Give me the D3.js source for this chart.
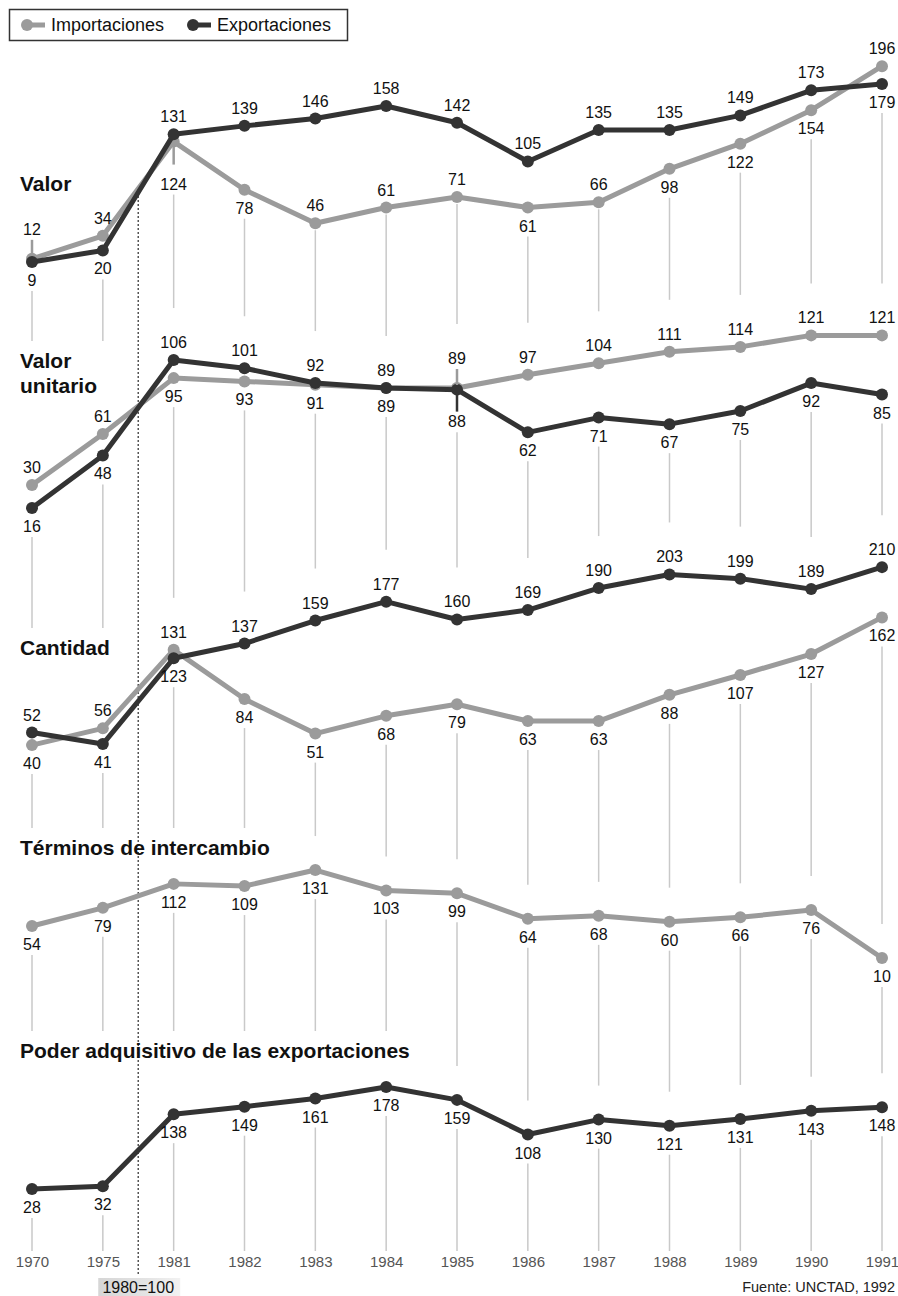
<!DOCTYPE html>
<html><head><meta charset="utf-8">
<script src="https://cdn.jsdelivr.net/npm/d3@7"></script>
<style>
html,body{margin:0;padding:0;background:#fff;}
svg{display:block;font-family:"Liberation Sans",Arial,Helvetica,sans-serif;}
</style></head><body>
<svg id="chart" width="898" height="1296"></svg>
<script>
// ---------- DATA ----------
const years = ["1970","1975","1981","1982","1983","1984","1985","1986","1987","1988","1989","1990","1991"];
const seriesNames = ["Importaciones","Exportaciones"];

const valorImp = [12,34,124,78,46,61,71,61,66,98,122,154,196];
const valorExp = [9,20,131,139,146,158,142,105,135,135,149,173,179];
const unitImp  = [30,61,95,93,91,89,89,97,104,111,114,121,121];
const unitExp  = [16,48,106,101,92,89,88,62,71,67,75,92,85];
const cantImp  = [40,56,131,84,51,68,79,63,63,88,107,127,162];
const cantExp  = [52,41,123,137,159,177,160,169,190,203,199,189,210];
const terminos = [54,79,112,109,131,103,99,64,68,60,66,76,10];
const poder    = [28,32,138,149,161,178,159,108,130,121,131,143,148];

// label side: a = above, b = below, A/B/C = with leader tick
const valorImpSide = ["A","a","C","b","a","a","a","b","a","b","b","b","a"];
const valorExpSide = ["b","b","a","a","a","a","a","a","a","a","a","a","b"];
const unitImpSide  = ["a","a","b","b","b","b","A","a","a","a","a","a","a"];
const unitExpSide  = ["b","b","a","a","a","a","B","b","b","b","b","b","b"];
const cantImpSide  = ["b","a","a","b","b","b","b","b","b","b","b","b","b"];
const cantExpSide  = ["a","b","b","a","a","a","a","a","a","a","a","a","a"];
const termSide     = years.map(()=>"b");
const poderSide    = years.map(()=>"b");

const panelTitles = [["Valor"],["Valor","unitario"],["Cantidad"],["Términos de intercambio"],["Poder adquisitivo de las exportaciones"]];
const baseNote = "1980=100";
const sourceNote = "Fuente: UNCTAD, 1992";

// ---------- STYLE / LAYOUT ----------
const cImp = "#9b9b9b", cExp = "#333333", cGrid = "#c9c9c9";
const svg = d3.select("#chart");
const x = d3.scalePoint().domain(years).range([32, 882]).padding(0);

const panels = [
  {title: panelTitles[0], titleY: 191, y: d3.scaleLinear().domain([0,100]).range([271.4, 271.4-104.7]),
   series: [{v: valorImp, side: valorImpSide, c: cImp}, {v: valorExp, side: valorExpSide, c: cExp}]},
  {title: panelTitles[1], titleY: 368, y: d3.scaleLinear().domain([0,100]).range([534.3, 534.3-164.4]),
   series: [{v: unitImp, side: unitImpSide, c: cImp}, {v: unitExp, side: unitExpSide, c: cExp}]},
  {title: panelTitles[2], titleY: 655, y: d3.scaleLinear().domain([0,100]).range([787, 787-104.7]),
   series: [{v: cantImp, side: cantImpSide, c: cImp}, {v: cantExp, side: cantExpSide, c: cExp}]},
  {title: panelTitles[3], titleY: 855, y: d3.scaleLinear().domain([0,100]).range([965.3, 965.3-72.7]),
   series: [{v: terminos, side: termSide, c: cImp}]},
  {title: panelTitles[4], titleY: 1058, y: d3.scaleLinear().domain([0,100]).range([1208, 1208-68]),
   series: [{v: poder, side: poderSide, c: cExp}]}
];

const R = 6, LW = 5, FS = 16;
const gGrid = svg.append("g");
const gMain = svg.append("g");

// titles
panels.forEach(p => {
  const t = gMain.append("text").attr("x", 20).attr("y", p.titleY)
    .attr("font-size", 21).attr("font-weight", "bold").attr("fill", "#111");
  p.title.forEach((line, i) => {
    t.append("tspan").attr("x", 20).attr("dy", i === 0 ? 0 : 24.5).text(line);
  });
  p.titleNode = t.node();
});

function labelInfo(side, py) {
  if (side === "a") return {base: py - 12, tick: null};
  if (side === "A") return {base: py - 24, tick: [py - 3, py - 19]};
  if (side === "b") return {base: py + 24, tick: null};
  if (side === "B") return {base: py + 37.5, tick: [py + 3, py + 22]};
  if (side === "C") return {base: py + 48, tick: [py + 3, py + 23]};
}

panels.forEach(p => {
  p.top = years.map(() => Infinity);
  p.bottom = years.map(() => -Infinity);
  p.series.forEach(s => {
    s.v.forEach((val, i) => {
      const py = p.y(val);
      const li = labelInfo(s.side[i], py);
      p.top[i] = Math.min(p.top[i], py - R);
      p.bottom[i] = Math.max(p.bottom[i], py + R);
      if (s.side[i] === "a" || s.side[i] === "A") p.top[i] = Math.min(p.top[i], li.base - 12);
      else p.bottom[i] = Math.max(p.bottom[i], li.base + 4);
    });
  });
});

// vertical grid segments
panels.forEach((p, pi) => {
  years.forEach((yr, i) => {
    const xx = x(yr);
    const y1 = p.bottom[i] + 1;
    let y2;
    if (pi === panels.length - 1) {
      y2 = 1251;
    } else {
      const np = panels[pi + 1];
      y2 = np.top[i] - 28;
      const bb = np.titleNode.getBBox();
      if (xx >= bb.x - 8 && xx <= bb.x + bb.width + 8) y2 = Math.min(y2, bb.y - 8);
    }
    if (y2 > y1) gGrid.append("line").attr("x1", xx).attr("x2", xx).attr("y1", y1).attr("y2", y2)
      .attr("stroke", cGrid).attr("stroke-width", 1.5);
  });
});

// dotted 1980 reference
const xRef = (x("1975") + x("1981")) / 2;
gGrid.append("line").attr("x1", xRef).attr("x2", xRef).attr("y1", 196).attr("y2", 1274)
  .attr("stroke", "#555").attr("stroke-width", 1.5).attr("stroke-dasharray", "2,2");

// series lines, points
panels.forEach(p => {
  p.series.forEach(s => {
    const line = d3.line().x((d, i) => x(years[i])).y(d => p.y(d));
    gMain.append("path").datum(s.v).attr("d", line).attr("fill", "none")
      .attr("stroke", s.c).attr("stroke-width", LW).attr("stroke-linejoin", "round");
    gMain.selectAll(null).data(s.v).enter().append("circle")
      .attr("cx", (d, i) => x(years[i])).attr("cy", d => p.y(d)).attr("r", R).attr("fill", s.c);
  });
});
// value labels
panels.forEach(p => {
  p.series.forEach(s => {
    s.v.forEach((val, i) => {
      const py = p.y(val), xx = x(years[i]);
      const li = labelInfo(s.side[i], py);
      if (li.tick) gMain.append("line").attr("x1", xx).attr("x2", xx).attr("y1", li.tick[0]).attr("y2", li.tick[1])
        .attr("stroke", s.c).attr("stroke-width", 2.5);
      gMain.append("text").attr("x", xx).attr("y", li.base).attr("text-anchor", "middle")
        .attr("font-size", FS).attr("fill", "#111").text(val);
    });
  });
});

// x axis labels
const axis = d3.axisBottom(x).tickSize(0).tickPadding(0);
const gAx = svg.append("g").attr("transform", "translate(0,1256)").call(axis);
gAx.select(".domain").remove();
gAx.selectAll("text").attr("font-size", 15).attr("fill", "#555")
  .attr("font-family", "Liberation Sans, Arial, sans-serif").attr("dy", "0.71em");

// base note
const gradient = svg.append("defs").append("linearGradient").attr("id", "gbox").attr("x1", 0).attr("x2", 1);
gradient.append("stop").attr("offset", "0%").attr("stop-color", "#d6d6d6");
gradient.append("stop").attr("offset", "60%").attr("stop-color", "#e4e4e4");
gradient.append("stop").attr("offset", "100%").attr("stop-color", "#f2f2f2");
svg.append("rect").attr("x", xRef - 40).attr("y", 1278).attr("width", 82).attr("height", 18).attr("fill", "url(#gbox)");
svg.append("text").attr("x", xRef).attr("y", 1293).attr("text-anchor", "middle").attr("font-size", FS)
  .attr("fill", "#111").text(baseNote);

// source
svg.append("text").attr("x", 895).attr("y", 1292).attr("text-anchor", "end").attr("font-size", 14.5)
  .attr("fill", "#222").text(sourceNote);

// legend
const gLeg = svg.append("g");
gLeg.append("rect").attr("x", 9.5).attr("y", 9.5).attr("width", 338).attr("height", 31)
  .attr("fill", "#fff").attr("stroke", "#333").attr("stroke-width", 1.5);
const legX = [27, 193];
seriesNames.forEach((n, i) => {
  const c = i === 0 ? cImp : cExp;
  gLeg.append("line").attr("x1", legX[i]).attr("x2", legX[i] + 18).attr("y1", 25).attr("y2", 25)
    .attr("stroke", c).attr("stroke-width", LW);
  gLeg.append("circle").attr("cx", legX[i]).attr("cy", 25).attr("r", R).attr("fill", c);
  gLeg.append("text").attr("x", legX[i] + 24).attr("y", 31).attr("font-size", 18).attr("fill", "#111").text(n);
});
</script>
</body></html>
